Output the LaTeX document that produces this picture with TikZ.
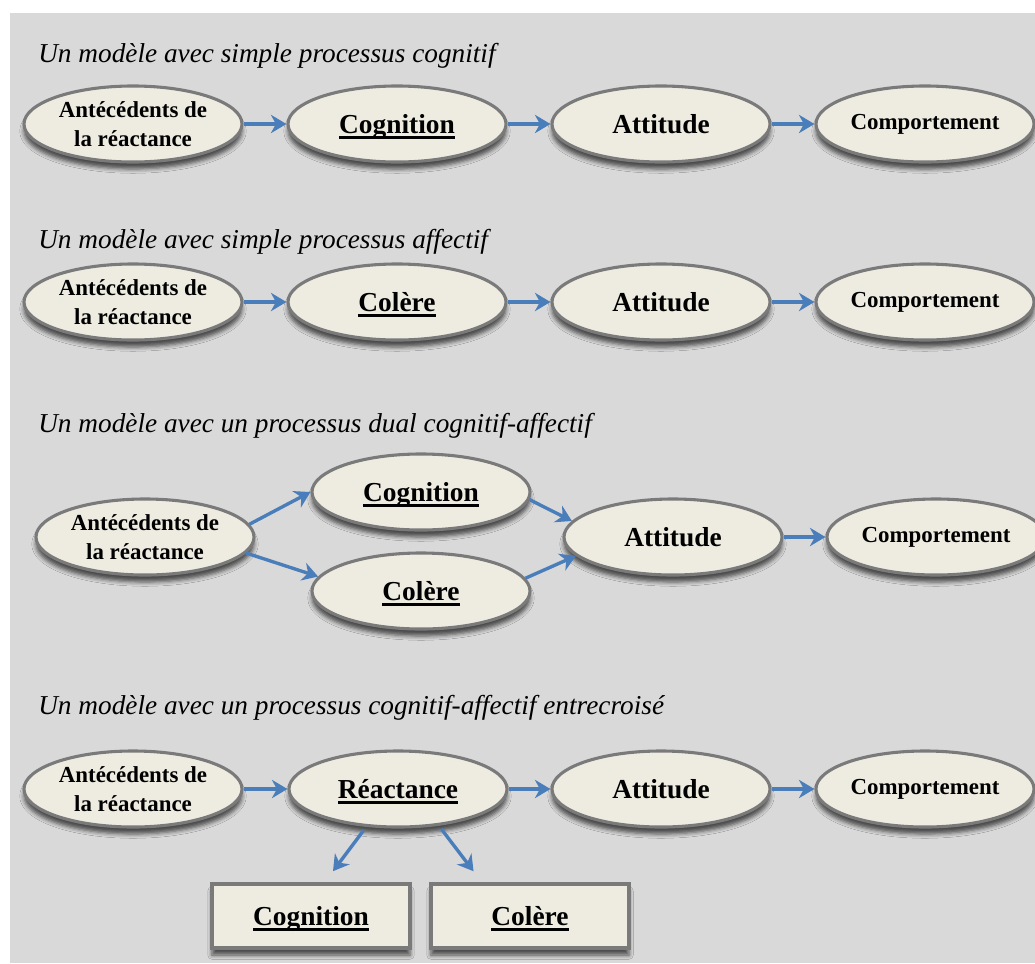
\documentclass[tikz,border=0pt]{standalone}
\usepackage{fontspec}
\setmainfont{Liberation Serif}
\usetikzlibrary{arrows.meta, shapes.geometric, shadows.blur}

\definecolor{fond}{HTML}{D9D9D9}
\definecolor{creme}{HTML}{EEECE1}
\definecolor{bord}{HTML}{7A7A7A}
\definecolor{bleu}{HTML}{4A7EBB}

\newcommand{\souligne}[1]{\setbox0=\hbox{#1}\dp0=0pt\rlap{\smash{\rule[-3.6pt]{\wd0}{1.6pt}}}\box0}

\begin{document}
\begin{tikzpicture}[
    x=0.025cm, y=-0.025cm,
    ovale/.style={ellipse, draw=bord, line width=2.2pt, fill=creme, minimum width=5.45cm, minimum height=1.9cm, inner sep=0pt, align=center, font=\bfseries\fontsize{19.5}{24}\selectfont,
        blur shadow={shadow xshift=0pt, shadow yshift=-5pt, shadow opacity=65, shadow blur radius=3pt}},
    petit/.style={font=\bfseries\fontsize{16.3}{21}\selectfont},
    boite/.style={rectangle, draw=bord, line width=2.2pt, fill=creme, minimum width=4.95cm, minimum height=1.6cm, inner sep=0pt, align=center, font=\bfseries\fontsize{19.5}{24}\selectfont,
        blur shadow={shadow xshift=0pt, shadow yshift=-5pt, shadow opacity=65, shadow blur radius=3pt}},
    fleche/.style={-{Stealth[length=11pt, width=13pt, inset=3.5pt]}, draw=bleu, line width=2.4pt},
    titre/.style={anchor=base west, inner sep=0pt, font=\itshape\fontsize{19.4}{23}\selectfont}
]
\useasboundingbox (0,0) rectangle (1035,963);
\fill[fond] (10,13) rectangle (1035,963);

% Simple processus cognitif
\node[titre] (t1) at (38,62) {Un modèle avec simple processus cognitif};
\node[ovale, petit] (ant1) at (133,124) {Antécédents de\\la réactance};
\node[ovale] (cog1) at (397,124) {\souligne{Cognition}};
\node[ovale] (att1) at (661,124) {Attitude};
\node[ovale, petit] (comp1) at (925,124) {Comportement};

% Simple processus affectif
\node[titre] (t2) at (38,248) {Un modèle avec simple processus affectif};
\node[ovale, petit] (ant2) at (133,302) {Antécédents de\\la réactance};
\node[ovale] (col2) at (397,302) {\souligne{Colère}};
\node[ovale] (att2) at (661,302) {Attitude};
\node[ovale, petit] (comp2) at (925,302) {Comportement};

% Processus dual
\node[titre] (t3) at (38,432) {Un modèle avec un processus dual cognitif-affectif};
\node[ovale, petit] (ant3) at (145,537) {Antécédents de\\la réactance};
\node[ovale] (cog3) at (421,492) {\souligne{Cognition}};
\node[ovale] (col3) at (421,591) {\souligne{Colère}};
\node[ovale] (att3) at (673,537) {Attitude};
\node[ovale, petit] (comp3) at (936,537) {Comportement};

% Processus entrecroise
\node[titre] (t4) at (38,714) {Un modèle avec un processus cognitif-affectif entrecroisé};
\node[ovale, petit] (ant4) at (133,789) {Antécédents de\\la réactance};
\node[ovale] (reac4) at (398,789) {\souligne{Réactance}};
\node[ovale] (att4) at (661,789) {Attitude};
\node[ovale, petit] (comp4) at (925,789) {Comportement};
\node[boite] (cogbox) at (311,916) {\souligne{Cognition}};
\node[boite] (colbox) at (530,916) {\souligne{Colère}};

% Fleches
\draw[fleche] (ant1) -- (cog1);
\draw[fleche] (cog1) -- (att1);
\draw[fleche] (att1) -- (comp1);

\draw[fleche] (ant2) -- (col2);
\draw[fleche] (col2) -- (att2);
\draw[fleche] (att2) -- (comp2);

\draw[fleche] (ant3.7) -- (cog3.west);
\draw[fleche] (ant3.-9) -- (col3.172);
\draw[fleche] (cog3.-4) -- (att3.171);
\draw[fleche] (col3.7) -- (att3.191);
\draw[fleche] (att3) -- (comp3);

\draw[fleche] (ant4) -- (reac4);
\draw[fleche] (reac4) -- (att4);
\draw[fleche] (att4) -- (comp4);
\draw[fleche, shorten <=3pt, shorten >=10pt] (reac4.230) -- (cogbox.68);
\draw[fleche, shorten <=3pt, shorten >=10pt] (reac4.-42) -- (colbox.145);

\end{tikzpicture}
\end{document}
